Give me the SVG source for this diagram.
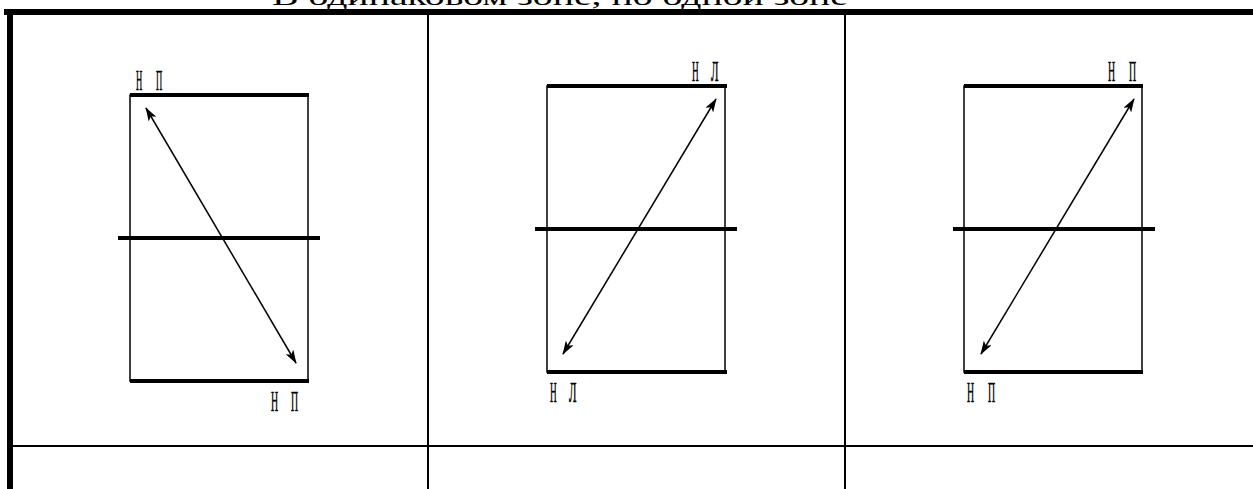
<svg xmlns="http://www.w3.org/2000/svg" width="1253" height="489" viewBox="0 0 1253 489">
<style>
.thin{stroke:#000;stroke-width:1.5;fill:none}
.grid{stroke:#000;stroke-width:2;fill:none}
.thick{stroke:#000;stroke-width:4;fill:none}
.arr{stroke:#000;stroke-width:1.5;fill:none;marker-start:url(#ah);marker-end:url(#ah)}
.lbl{font-family:"Liberation Serif","Times New Roman",serif;font-size:29px;fill:#000;stroke:#000;stroke-width:0.6}
.title{font-family:"Liberation Serif","Times New Roman",serif;font-size:26px;fill:#000}
</style>
<defs>
<marker id="ah" viewBox="0 0 14 9" refX="13" refY="4.5" markerWidth="14" markerHeight="9" markerUnits="userSpaceOnUse" orient="auto-start-reverse">
<path d="M0,0 L14,4.5 L0,9 L3.5,4.5 Z" fill="#000"/>
</marker>
</defs>
<rect width="1253" height="489" fill="#fff"/>
<text class="title" x="272" y="5" textLength="576" lengthAdjust="spacingAndGlyphs">В одинаковом зоне, но одной зоне</text>
<g id="table">
<rect x="4" y="9" width="1249" height="6" fill="#000"/>
<rect x="7" y="9" width="6" height="480" fill="#000"/>
<line class="grid" x1="428" y1="15" x2="428" y2="489"/>
<line class="grid" x1="845" y1="15" x2="845" y2="489"/>
<line class="grid" x1="13" y1="446" x2="1253" y2="446"/>
</g>
<g id="panel1">
<rect class="thin" x="130" y="95" width="178" height="286"/>
<line class="thick" x1="130" y1="95" x2="309" y2="95"/>
<line class="thick" x1="130" y1="381" x2="309" y2="381"/>
<line class="thick" x1="118" y1="238" x2="320" y2="238"/>
<text class="lbl" transform="translate(136,90) scale(0.3,1)">Н</text>
<text class="lbl" transform="translate(156,90) scale(0.3,1)">П</text>
<text class="lbl" transform="translate(271,411) scale(0.34,1)">Н</text>
<text class="lbl" transform="translate(291,411) scale(0.34,1)">П</text>
</g>
<g id="panel2">
<rect class="thin" x="547" y="86" width="178" height="286"/>
<line class="thick" x1="547" y1="86" x2="727" y2="86"/>
<line class="thick" x1="547" y1="372" x2="727" y2="372"/>
<line class="thick" x1="535" y1="229" x2="737" y2="229"/>
<text class="lbl" transform="translate(692,81) scale(0.32,1)">Н</text>
<text class="lbl" transform="translate(711,81) scale(0.38,1)">Л</text>
<text class="lbl" transform="translate(550,402) scale(0.32,1)">Н</text>
<text class="lbl" transform="translate(569,402) scale(0.38,1)">Л</text>
</g>
<g id="panel3">
<rect class="thin" x="964" y="86" width="178" height="286"/>
<line class="thick" x1="964" y1="86" x2="1143" y2="86"/>
<line class="thick" x1="964" y1="372" x2="1143" y2="372"/>
<line class="thick" x1="953" y1="229" x2="1155" y2="229"/>
<text class="lbl" transform="translate(1108,81) scale(0.34,1)">Н</text>
<text class="lbl" transform="translate(1129,81) scale(0.34,1)">П</text>
<text class="lbl" transform="translate(967,402) scale(0.34,1)">Н</text>
<text class="lbl" transform="translate(988,402) scale(0.34,1)">П</text>
</g>
<g id="connectors">
<line class="arr" x1="146" y1="108" x2="296" y2="363"/>
<line class="arr" x1="563" y1="354" x2="716" y2="99"/>
<line class="arr" x1="981" y1="354" x2="1134" y2="99"/>
</g>
</svg>
